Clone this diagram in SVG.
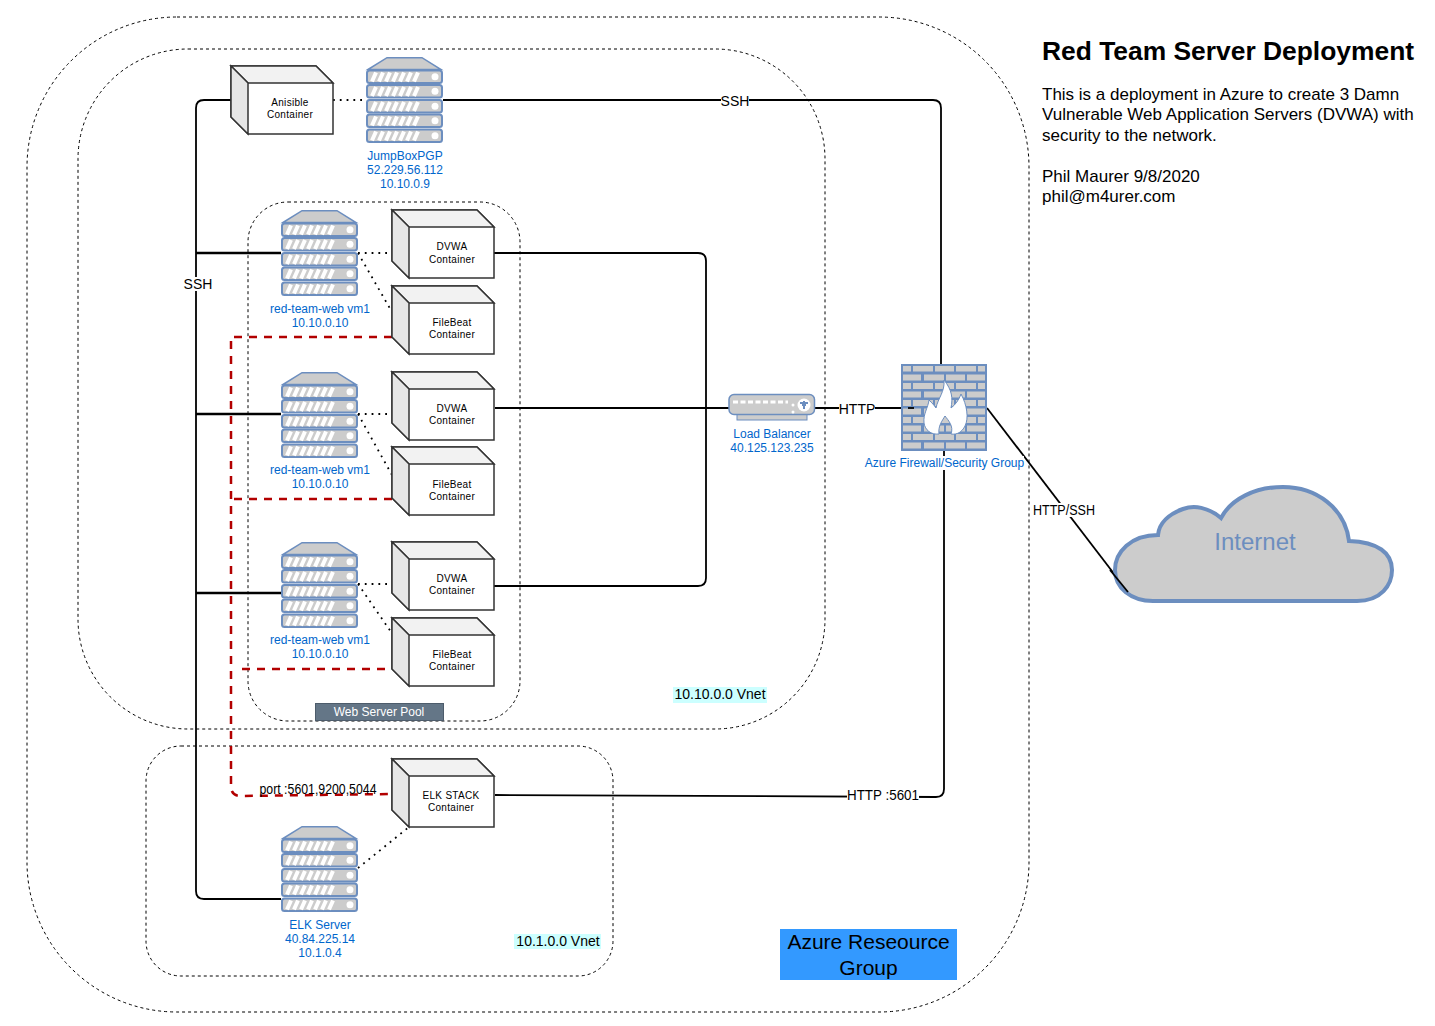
<svg xmlns="http://www.w3.org/2000/svg" xmlns:xlink="http://www.w3.org/1999/xlink" width="1435" height="1026" viewBox="0 0 1435 1026">
<style>
text{font-family:"Liberation Sans",Arial,sans-serif;}
.zone{fill:none;stroke:#000;stroke-width:1;stroke-dasharray:3 3;}
.wire{fill:none;stroke:#000;stroke-width:1.800;}
.bold{fill:none;stroke:#000;stroke-width:2.500;}
.dot{fill:none;stroke:#000;stroke-width:1.800;stroke-dasharray:1.800 5;}
.red{fill:none;stroke:#b20000;stroke-width:2.500;stroke-dasharray:8 7;}
.bl{fill:#0066cc;font-size:12px;text-anchor:middle;}
.bx{fill:#000;font-size:10px;text-anchor:middle;letter-spacing:.3px;}
.lb{fill:#000;font-size:14px;text-anchor:middle;}
.sl{fill:#ccc;stroke:#6c8ebf;stroke-width:2;}
.st{fill:none;stroke:#fff;stroke-width:4;}
</style>
<defs>
<g id="slab">
<rect class="sl" x="1" y="0" width="75" height="12.500" rx="2.500"/>
<path class="st" d="M6 11L10 2M13 11L17 2M20 11L24 2M27 11L31 2M34 11L38 2M41 11L45 2M48 11L52 2"/>
<circle cx="69" cy="6.200" r="3.500" fill="#fff"/>
</g>
<g id="server">
<path d="M2 12.500L21 0.700H56L75 12.500Z" fill="#ccc" stroke="#6c8ebf" stroke-width="1.500"/>
<use xlink:href="#slab" href="#slab" y="13.500"/>
<use xlink:href="#slab" href="#slab" y="28"/>
<use xlink:href="#slab" href="#slab" y="43"/>
<use xlink:href="#slab" href="#slab" y="57.500"/>
<use xlink:href="#slab" href="#slab" y="72.500"/>
</g>
<g id="box" stroke="#333" stroke-width="1.500">
<path d="M0 0H85L102 17V68H17L0 51Z" fill="#fff"/>
<path d="M0 0H85L102 17H17Z" fill="#f2f2f2"/>
<path d="M0 0L17 17V68L0 51Z" fill="#e6e6e6"/>
</g>
</defs>
<rect width="1435" height="1026" fill="#fff"/>
<g id="zones">
<rect class="zone" x="27" y="17" width="1002" height="995" rx="150"/>
<rect class="zone" x="78" y="49" width="747" height="680" rx="110"/>
<rect class="zone" x="248" y="202" width="272" height="519" rx="40"/>
<rect class="zone" x="146" y="746" width="467" height="230" rx="35"/>
</g>
<g id="connectors">
<path class="wire" d="M231 100H204Q196 100 196 108V891Q196 899 204 899H281"/>
<path class="bold" d="M196 253H281M196 414H281M196 593H281"/>
<path class="wire" d="M443 100H933Q941 100 941 108V364"/>
<path class="wire" d="M494 253H698Q706 253 706 261V578Q706 586 698 586H494"/>
<path class="wire" d="M495 408H729M815 408H908"/>
<path class="wire" d="M495 795L936 797Q944 797 944 789V451"/>
<path class="wire" d="M987 408L1128 592"/>
<path class="red" d="M392 337H231V786Q231 796 241 796L392 794"/>
<path class="red" d="M392 499H231M385 669H240"/>
<path class="dot" d="M333 100H366M358 253H392M358 253L392 312M358 414H392M358 414L392 475M358 584H392M358 584L400 645M358 868L409 827"/>
</g>
<g id="node-ansible"><use xlink:href="#box" href="#box" x="231" y="66"/><text class="bx" x="290" y="106">Anisible</text><text class="bx" x="290" y="118">Container</text></g>
<g id="node-jumpbox"><use xlink:href="#server" href="#server" x="366" y="57"/><text class="bl" x="405" y="160">JumpBoxPGP</text><text class="bl" x="405" y="174">52.229.56.112</text><text class="bl" x="405" y="188">10.10.0.9</text></g>
<g id="node-web1"><use xlink:href="#server" href="#server" x="281" y="210"/><text class="bl" x="320" y="313">red-team-web vm1</text><text class="bl" x="320" y="327">10.10.0.10</text></g>
<g id="node-web2"><use xlink:href="#server" href="#server" x="281" y="372"/><text class="bl" x="320" y="474">red-team-web vm1</text><text class="bl" x="320" y="488">10.10.0.10</text></g>
<g id="node-web3"><use xlink:href="#server" href="#server" x="281" y="542"/><text class="bl" x="320" y="644">red-team-web vm1</text><text class="bl" x="320" y="658">10.10.0.10</text></g>
<g id="node-elkserver"><use xlink:href="#server" href="#server" x="281" y="826"/><text class="bl" x="320" y="929">ELK Server</text><text class="bl" x="320" y="943">40.84.225.14</text><text class="bl" x="320" y="957">10.1.0.4</text></g>
<g id="node-dvwa1"><use xlink:href="#box" href="#box" x="392" y="210"/><text class="bx" x="452" y="250">DVWA</text><text class="bx" x="452" y="263">Container</text></g>
<g id="node-fb1"><use xlink:href="#box" href="#box" x="392" y="286"/><text class="bx" x="452" y="326">FileBeat</text><text class="bx" x="452" y="338">Container</text></g>
<g id="node-dvwa2"><use xlink:href="#box" href="#box" x="392" y="372"/><text class="bx" x="452" y="412">DVWA</text><text class="bx" x="452" y="424">Container</text></g>
<g id="node-fb2"><use xlink:href="#box" href="#box" x="392" y="447"/><text class="bx" x="452" y="488">FileBeat</text><text class="bx" x="452" y="500">Container</text></g>
<g id="node-dvwa3"><use xlink:href="#box" href="#box" x="392" y="542"/><text class="bx" x="452" y="582">DVWA</text><text class="bx" x="452" y="594">Container</text></g>
<g id="node-fb3"><use xlink:href="#box" href="#box" x="392" y="618"/><text class="bx" x="452" y="658">FileBeat</text><text class="bx" x="452" y="670">Container</text></g>
<g id="node-elk"><use xlink:href="#box" href="#box" x="392" y="759"/><text class="bx" x="451" y="799">ELK STACK</text><text class="bx" x="451" y="811">Container</text></g>
<g id="node-pool"><rect x="315.500" y="703.500" width="128" height="17" fill="#647687" stroke="#4d5c6b"/><text x="379" y="716" fill="#fff" font-size="12" text-anchor="middle">Web Server Pool</text></g>
<g id="node-lb">
<rect x="737" y="414" width="70" height="6" fill="#ccc" stroke="#6c8ebf"/>
<rect x="729" y="394.500" width="85.500" height="20" rx="5" fill="#ccc" stroke="#6c8ebf" stroke-width="1.500"/>
<path d="M733 402H788" stroke="#fff" stroke-width="3" stroke-dasharray="5 2.500" fill="none"/>
<circle cx="793" cy="405" r="1.500" fill="#fff"/><circle cx="793" cy="412" r="1.500" fill="#fff"/>
<circle cx="804" cy="405" r="6.500" fill="#fff"/>
<path d="M800 403H808M804 401V409M802 405H806" stroke="#6c8ebf" stroke-width="2"/>
<text class="bl" x="772" y="438">Load Balancer</text><text class="bl" x="772" y="452">40.125.123.235</text>
</g>
<g id="node-firewall">
<rect x="901" y="364" width="86" height="87" fill="#6c8ebf"/>
<path fill="#ccc" d="M903 366h8v5.500h-8zM913 366h20v5.500h-20zM935 366h19v5.500h-19zM956 366h20v5.500h-20zM978 366h7v5.500h-7zM903 374.500h18v6h-18zM924 374.500h20v6h-20zM946 374.500h19v6h-19zM967 374.500h18v6h-18zM903 383h8v6h-8zM913 383h20v6h-20zM935 383h19v6h-19zM956 383h20v6h-20zM978 383h7v6h-7zM903 391.500h18v6h-18zM924 391.500h20v6h-20zM946 391.500h19v6h-19zM967 391.500h18v6h-18zM903 400h8v6h-8zM913 400h20v6h-20zM935 400h19v6h-19zM956 400h20v6h-20zM978 400h7v6h-7zM903 408.500h18v6h-18zM924 408.500h20v6h-20zM946 408.500h19v6h-19zM967 408.500h18v6h-18zM903 417h8v6h-8zM913 417h20v6h-20zM935 417h19v6h-19zM956 417h20v6h-20zM978 417h7v6h-7zM903 425.500h18v6h-18zM924 425.500h20v6h-20zM946 425.500h19v6h-19zM967 425.500h18v6h-18zM903 434h8v6h-8zM913 434h20v6h-20zM935 434h19v6h-19zM956 434h20v6h-20zM978 434h7v6h-7zM903 442.500h18v6h-18zM924 442.500h20v6h-20zM946 442.500h19v6h-19zM967 442.500h18v6h-18z"/>
<path d="M908 408H914" stroke="#000" stroke-width="1.800"/>
<path d="M944 380C952 390 953 398 951 408C955 405 959 400 961 394C967 405 969 418 965 426C962 432 957 435 951 434C954 426 948 420 945 416C942 421 938 426 939 434C931 435 925 430 924 423C923 414 928 408 929 400C932 403 934 405 936 408C938 398 945 392 944 380Z" fill="#fff" stroke="#6c8ebf"/>
<rect x="865" y="456" width="159" height="14" fill="#fff"/>
<text class="bl" x="944.500" y="467">Azure Firewall/Security Group</text>
</g>
<g id="node-internet">
<path d="M1153 601H1357C1381 601 1392 585 1392 570C1392 553 1378 542 1349 541C1345 508 1316 487 1283 487C1255 487 1231 499 1221 518C1208 507 1194 505 1183 509C1169 514 1159 523 1158 535C1131 535 1115 552 1115 570C1115 588 1131 601 1153 601Z" fill="#ccc" stroke="#6c8ebf" stroke-width="4"/>
<text x="1255" y="550" fill="#6c8ebf" font-size="24" text-anchor="middle">Internet</text>
</g>
<path class="wire" d="M1110 570L1128 592"/>
<g id="labels">
<rect x="721" y="94" width="28" height="14" fill="#fff"/><text class="lb" x="735" y="106">SSH</text>
<rect x="183" y="277" width="30" height="14" fill="#fff"/><text class="lb" x="198" y="289">SSH</text>
<rect x="839" y="402" width="36" height="14" fill="#fff"/><text class="lb" x="857" y="414">HTTP</text>
<rect x="847" y="789" width="72" height="14" fill="#fff"/><text x="883" y="800" font-size="14" text-anchor="middle" textLength="72" lengthAdjust="spacingAndGlyphs">HTTP :5601</text>
<rect x="1033" y="503" width="62" height="14" fill="#fff"/><text x="1064" y="515" font-size="14" text-anchor="middle" textLength="62" lengthAdjust="spacingAndGlyphs">HTTP/SSH</text>
<text x="318" y="794" font-size="14" text-anchor="middle" textLength="117" lengthAdjust="spacingAndGlyphs">port :5601,9200,5044</text>
<rect x="673" y="687" width="94" height="16" fill="#ccffff"/><text class="lb" x="720" y="699">10.10.0.0 Vnet</text>
<rect x="514" y="934" width="87" height="15" fill="#ccffff"/><text class="lb" x="558" y="946">10.1.0.0 Vnet</text>
<rect x="780" y="929" width="177" height="51" fill="#3399ff"/>
<text x="868.500" y="949" font-size="21" text-anchor="middle">Azure Reseource</text>
<text x="868.500" y="975" font-size="21" text-anchor="middle">Group</text>
</g>
<g id="title">
<text x="1042" y="60" font-size="26.400" font-weight="bold">Red Team Server Deployment</text>
<text x="1042" y="100" font-size="17">This is a deployment in Azure to create 3 Damn</text>
<text x="1042" y="120" font-size="17">Vulnerable Web Application Servers (DVWA) with</text>
<text x="1042" y="141" font-size="17">security to the network.</text>
<text x="1042" y="182" font-size="17">Phil Maurer 9/8/2020</text>
<text x="1042" y="202" font-size="17">phil@m4urer.com</text>
</g>
</svg>
